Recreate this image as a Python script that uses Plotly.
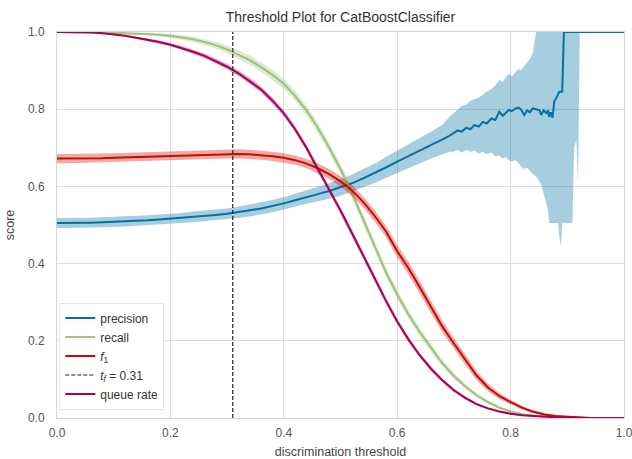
import plotly.graph_objects as go

# ---------------- data ----------------
thresholds = [0.00, 0.02, 0.04, 0.06, 0.08, 0.10, 0.12, 0.14, 0.16, 0.18,
              0.20, 0.22, 0.24, 0.26, 0.28, 0.30, 0.32, 0.34, 0.36, 0.38,
              0.40, 0.42, 0.44, 0.46, 0.48, 0.50, 0.52, 0.54, 0.56, 0.58,
              0.60, 0.62, 0.64, 0.66, 0.68, 0.70, 0.72, 0.74, 0.76, 0.78,
              0.80, 0.82, 0.84, 0.86, 0.88, 0.90, 0.92, 0.94, 0.96, 0.98, 1.00]

recall = [1.000, 1.000, 1.000, 1.000, 0.999, 0.998, 0.997, 0.996, 0.995, 0.993,
          0.990, 0.986, 0.981, 0.974, 0.966, 0.955, 0.942, 0.927, 0.909, 0.889,
          0.866, 0.834, 0.797, 0.752, 0.700, 0.645, 0.583, 0.515, 0.445, 0.378,
          0.320, 0.268, 0.222, 0.181, 0.141, 0.109, 0.082, 0.059, 0.041, 0.027,
          0.017, 0.010, 0.006, 0.004, 0.002, 0.001, 0.000, 0.000, 0.000, 0.000, 0.000]
recall_sd = [0.000, 0.000, 0.000, 0.000, 0.001, 0.002, 0.002, 0.003, 0.003, 0.004,
             0.005, 0.006, 0.007, 0.008, 0.009, 0.010, 0.011, 0.012, 0.012, 0.013,
             0.013, 0.013, 0.013, 0.013, 0.013, 0.013, 0.013, 0.013, 0.013, 0.012,
             0.012, 0.011, 0.011, 0.010, 0.009, 0.008, 0.007, 0.006, 0.005, 0.004,
             0.003, 0.002, 0.002, 0.001, 0.001, 0.000, 0.000, 0.000, 0.000, 0.000, 0.000]

f1 = [0.672, 0.672, 0.672, 0.673, 0.673, 0.674, 0.675, 0.676, 0.677, 0.678,
      0.679, 0.680, 0.681, 0.682, 0.683, 0.684, 0.684, 0.683, 0.681, 0.678,
      0.674, 0.668, 0.659, 0.647, 0.632, 0.613, 0.590, 0.560, 0.524, 0.484,
      0.432, 0.388, 0.338, 0.287, 0.236, 0.193, 0.151, 0.110, 0.079, 0.057,
      0.041, 0.027, 0.016, 0.009, 0.005, 0.003, 0.001, 0.000, 0.000, 0.000, 0.000]
f1_sd = [0.012, 0.012, 0.012, 0.012, 0.012, 0.012, 0.012, 0.012, 0.012, 0.012,
         0.012, 0.012, 0.012, 0.012, 0.012, 0.012, 0.012, 0.012, 0.012, 0.012,
         0.012, 0.012, 0.012, 0.013, 0.013, 0.013, 0.014, 0.014, 0.015, 0.015,
         0.016, 0.016, 0.016, 0.016, 0.015, 0.014, 0.013, 0.012, 0.010, 0.008,
         0.006, 0.005, 0.004, 0.003, 0.002, 0.001, 0.001, 0.000, 0.000, 0.000, 0.000]

queue_rate = [1.000, 1.000, 1.000, 0.999, 0.997, 0.994, 0.990, 0.985, 0.980, 0.974,
              0.967, 0.959, 0.949, 0.938, 0.925, 0.910, 0.893, 0.873, 0.851, 0.822,
              0.789, 0.748, 0.700, 0.645, 0.593, 0.538, 0.480, 0.421, 0.362, 0.304,
              0.250, 0.203, 0.162, 0.127, 0.097, 0.072, 0.052, 0.036, 0.025, 0.017,
              0.011, 0.007, 0.005, 0.003, 0.002, 0.001, 0.000, 0.000, 0.000, 0.000, 0.000]
queue_sd = [0.000, 0.000, 0.000, 0.001, 0.001, 0.002, 0.002, 0.003, 0.003, 0.004,
            0.004, 0.005, 0.005, 0.006, 0.006, 0.007, 0.007, 0.008, 0.008, 0.008,
            0.008, 0.008, 0.008, 0.008, 0.008, 0.008, 0.008, 0.008, 0.008, 0.008,
            0.007, 0.007, 0.006, 0.006, 0.005, 0.005, 0.004, 0.003, 0.003, 0.002,
            0.002, 0.001, 0.001, 0.001, 0.000, 0.000, 0.000, 0.000, 0.000, 0.000, 0.000]

precision_t = [0.00, 0.02, 0.04, 0.06, 0.08, 0.10, 0.12, 0.14, 0.16, 0.18,
               0.20, 0.22, 0.24, 0.26, 0.28, 0.30, 0.32, 0.34, 0.36, 0.38,
               0.40, 0.42, 0.44, 0.46, 0.48, 0.50, 0.52, 0.54, 0.56, 0.58,
               0.60, 0.62, 0.64, 0.66, 0.68,
               0.692, 0.700, 0.707, 0.714, 0.722, 0.729, 0.736, 0.744, 0.751, 0.758,
               0.766, 0.773, 0.780, 0.786, 0.792, 0.797, 0.802, 0.809, 0.814, 0.818,
               0.824, 0.829, 0.834, 0.839, 0.845, 0.851, 0.854, 0.858, 0.863, 0.866,
               0.868, 0.871, 0.874, 0.877, 0.880, 0.884, 0.886, 0.889, 0.891, 0.894,
               0.900, 0.905, 0.909, 0.912, 0.916, 0.919, 0.922, 0.950, 1.000]
precision = [0.505, 0.505, 0.505, 0.506, 0.507, 0.508, 0.509, 0.510, 0.512, 0.514,
             0.516, 0.518, 0.521, 0.523, 0.526, 0.529, 0.533, 0.538, 0.543, 0.549,
             0.556, 0.564, 0.573, 0.580, 0.588, 0.597, 0.608, 0.621, 0.634, 0.649,
             0.664, 0.678, 0.692, 0.707, 0.722,
             0.731, 0.738, 0.745, 0.742, 0.752, 0.748, 0.759, 0.755, 0.767, 0.763,
             0.776, 0.772, 0.793, 0.783, 0.790, 0.798, 0.795, 0.802, 0.804, 0.800,
             0.785, 0.797, 0.792, 0.802, 0.800, 0.797, 0.785, 0.797, 0.790, 0.797,
             0.780, 0.792, 0.778, 0.820, 0.828, 0.840, 0.845, 0.845, 0.845, 1.000,
             1.000, 1.000, 1.000, 1.000, 1.000, 1.000, 1.000, 1.000, 1.000]
precision_lo = [0.492, 0.492, 0.492, 0.493, 0.494, 0.495, 0.496, 0.497, 0.499, 0.501,
                0.503, 0.505, 0.507, 0.509, 0.512, 0.515, 0.518, 0.522, 0.527, 0.533,
                0.540, 0.547, 0.555, 0.561, 0.568, 0.576, 0.586, 0.597, 0.609, 0.622,
                0.636, 0.648, 0.660, 0.672, 0.684,
                0.690, 0.690, 0.695, 0.688, 0.695, 0.690, 0.693, 0.685, 0.690, 0.683,
                0.688, 0.678, 0.680, 0.672, 0.676, 0.668, 0.665, 0.668, 0.660, 0.652,
                0.645, 0.648, 0.640, 0.632, 0.625, 0.612, 0.605, 0.580, 0.557, 0.540,
                0.505, 0.505, 0.505, 0.505, 0.505, 0.505, 0.470, 0.444, 0.505, 0.505,
                0.505, 0.505, 0.505, 0.700, 0.720, 0.610, 1.000, 1.000, 1.000]
precision_hi = [0.518, 0.518, 0.518, 0.519, 0.520, 0.521, 0.522, 0.523, 0.525, 0.527,
                0.529, 0.531, 0.535, 0.537, 0.540, 0.543, 0.548, 0.554, 0.559, 0.565,
                0.572, 0.581, 0.591, 0.599, 0.608, 0.618, 0.630, 0.645, 0.659, 0.676,
                0.692, 0.708, 0.724, 0.742, 0.760,
                0.780, 0.790, 0.800, 0.808, 0.812, 0.822, 0.826, 0.830, 0.838, 0.846,
                0.852, 0.862, 0.876, 0.870, 0.884, 0.892, 0.885, 0.896, 0.905, 0.900,
                0.912, 0.922, 0.930, 0.945, 1.000, 1.000, 1.000, 1.000, 1.000, 1.000,
                1.000, 1.000, 1.000, 1.000, 1.000, 1.000, 1.000, 1.000, 1.000, 1.000,
                1.000, 1.000, 1.000, 1.000, 1.000, 1.000, 1.000, 1.000, 1.000]

best_threshold = 0.31

# ---------------- styling ----------------
COLORS = {
    "precision": "#0272a2",
    "recall": "#9fc377",
    "f1": "#ca0b03",
    "queue": "#a50258",
}


def rgba(hex_color, a):
    h = hex_color.lstrip("#")
    r, g, b = int(h[0:2], 16), int(h[2:4], 16), int(h[4:6], 16)
    return f"rgba({r},{g},{b},{a})"


fig = go.Figure()


def add_metric(label, x, y, lo, hi, color, rank):
    fig.add_trace(go.Scatter(
        x=x, y=y, mode="lines", name=label, legendrank=rank,
        line=dict(color=color, width=2), hoverinfo="skip"))
    fig.add_trace(go.Scatter(
        x=list(x) + list(x)[::-1], y=list(hi) + list(lo)[::-1],
        mode="lines", fill="toself", fillcolor=rgba(color, 0.35),
        line=dict(width=0, color="rgba(0,0,0,0)"), showlegend=False,
        hoverinfo="skip"))


add_metric("precision", precision_t, precision,
           precision_lo, precision_hi, COLORS["precision"], 1)
add_metric("recall", thresholds, recall,
           [a - b for a, b in zip(recall, recall_sd)],
           [min(1.0, a + b) for a, b in zip(recall, recall_sd)],
           COLORS["recall"], 2)
add_metric("<i>f</i><sub>1</sub>", thresholds, f1,
           [a - b for a, b in zip(f1, f1_sd)],
           [a + b for a, b in zip(f1, f1_sd)],
           COLORS["f1"], 3)
add_metric("queue rate", thresholds, queue_rate,
           [a - b for a, b in zip(queue_rate, queue_sd)],
           [min(1.0, a + b) for a, b in zip(queue_rate, queue_sd)],
           COLORS["queue"], 5)

fig.add_trace(go.Scatter(
    x=[best_threshold, best_threshold], y=[0, 1], mode="lines",
    name=f"<i>t<sub>f</sub></i> = {best_threshold:.2f}", legendrank=4,
    line=dict(color="#222222", width=1.2, dash="4px,2px"), hoverinfo="skip"))

FONT = "Liberation Sans, Arial, sans-serif"
axis_common = dict(
    range=[0, 1], dtick=0.2, tickformat=".1f",
    showgrid=True, gridcolor="#dddddd", gridwidth=1,
    zeroline=False, showline=True, mirror=True, linecolor="#d5d5d5", linewidth=1,
    ticks="", tickfont=dict(family=FONT, size=12, color="#555555"),
    ticklabeloverflow="allow", automargin=False,
)

fig.update_layout(
    width=632, height=459,
    margin=dict(l=57, r=8, t=32, b=41),
    paper_bgcolor="white", plot_bgcolor="white",
    font=dict(family=FONT, size=12, color="#333333"),
    title=dict(text="Threshold Plot for CatBoostClassifier",
               x=0.5, xref="paper", xanchor="center",
               y=1 - 17 / 459, yref="container", yanchor="middle",
               font=dict(family=FONT, size=14, color="#333333")),
    xaxis=dict(axis_common, ticklabelstandoff=4,
               title=dict(text="discrimination threshold", standoff=12,
                          font=dict(family=FONT, size=12.5, color="#444444"))),
    yaxis=dict(axis_common, ticklabelstandoff=9,
               title=dict(text="score", standoff=10,
                          font=dict(family=FONT, size=12.5, color="#444444"))),
    legend=dict(x=0.004, y=0.022, xanchor="left", yanchor="bottom",
                bgcolor="white", bordercolor="#e3e3e3", borderwidth=1,
                font=dict(family=FONT, size=12, color="#333333"),
                tracegroupgap=0, itemwidth=30),
    showlegend=True,
)

fig.write_html("out.html")
